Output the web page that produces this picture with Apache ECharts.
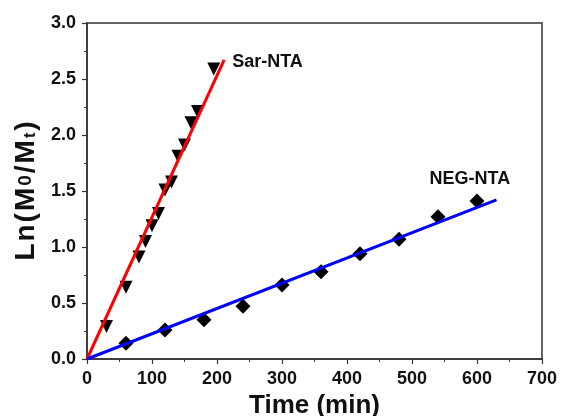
<!DOCTYPE html>
<html>
<head>
<meta charset="utf-8">
<script src="https://cdn.jsdelivr.net/npm/echarts@6/dist/echarts.min.js"></script>
<style>
    html, body { margin: 0; padding: 0; background: #fff; }
    #chart { width: 561px; height: 416px; }
</style>
</head>
<body>
<div id="chart"></div>
<script>
// Sar-NTA data (down triangles)
const sarTime = [30, 60, 80, 90, 100, 110, 120, 130, 140, 150, 160, 170, 195];
const sarLn = [0.29, 0.64, 0.91, 1.05, 1.19, 1.30, 1.51, 1.58, 1.81, 1.91, 2.11, 2.21, 2.59];
// NEG-NTA data (diamonds)
const negTime = [60, 120, 180, 240, 300, 360, 420, 480, 540, 600];
const negLn = [0.14, 0.26, 0.35, 0.47, 0.66, 0.78, 0.94, 1.07, 1.27, 1.41];
// linear fits
const sarFitTime = [0, 211];
const sarFitLn = [0, 2.67];
const negFitTime = [0, 630];
const negFitLn = [0, 1.42];

const xTicks = [0, 100, 200, 300, 400, 500, 600, 700];
const yTicks = [0, 0.5, 1.0, 1.5, 2.0, 2.5, 3.0];

const pairs = (xs, ys) => xs.map((x, i) => [x, ys[i]]);

const font = 'Liberation Sans, Arial, sans-serif';
const axisColor = '#333';
const textColor = '#111';

// rich pieces of the y axis title, one per glyph
const nameStyle = (size, top) => ({
    fontFamily: font, fontWeight: 'bold', fontSize: size, color: textColor,
    padding: [top || 0, 1, 0, 1]
});

const myChart = echarts.init(document.getElementById('chart'));
const option = {
    animation: false,
    grid: {
        left: 87,
        right: 19,
        top: 23,
        bottom: 57,
        outerBoundsMode: 'none',
        show: true,
        borderColor: axisColor,
        borderWidth: 1.5
    },
    xAxis: {
        type: 'value',
        min: xTicks[0],
        max: xTicks[xTicks.length - 1],
        interval: 100,
        name: 'Time (min)',
        nameLocation: 'middle',
        nameGap: 31,
        nameTextStyle: { fontFamily: font, fontWeight: 'bold', fontSize: 26, color: textColor },
        axisLine: { lineStyle: { color: axisColor, width: 1.5 } },
        axisTick: { length: 5, lineStyle: { color: axisColor, width: 1.2 } },
        minorTick: { show: true, splitNumber: 2, length: 3, lineStyle: { color: axisColor } },
        splitLine: { show: false },
        axisLabel: { fontFamily: font, fontWeight: 'bold', fontSize: 18, color: textColor, margin: 11 }
    },
    yAxis: {
        type: 'value',
        min: yTicks[0],
        max: yTicks[yTicks.length - 1],
        interval: 0.5,
        name: '{n|L}{n|n}{n|(}{n|M}{s|0}{n|/}{n|M}{t|t}{n|)}',
        nameLocation: 'middle',
        nameGap: 47,
        nameTextStyle: {
            fontFamily: font, fontWeight: 'bold', fontSize: 28, color: textColor,
            rich: {
                n: nameStyle(28),
                s: nameStyle(19),
                t: nameStyle(16, 10)
            }
        },
        axisLine: { show: true, lineStyle: { color: axisColor, width: 1.5 } },
        axisTick: { show: true, length: 5, lineStyle: { color: axisColor, width: 1.2 } },
        minorTick: { show: true, splitNumber: 2, length: 3, lineStyle: { color: axisColor } },
        splitLine: { show: false },
        axisLabel: {
            fontFamily: font, fontWeight: 'bold', fontSize: 18, color: textColor, margin: 11,
            formatter: v => v.toFixed(1)
        }
    },
    series: [
        {
            name: 'Sar-NTA',
            type: 'scatter',
            symbol: 'triangle',
            symbolRotate: 180,
            symbolSize: 13,
            itemStyle: { color: '#000', opacity: 1 },
            data: pairs(sarTime, sarLn),
            z: 2
        },
        {
            name: 'NEG-NTA',
            type: 'scatter',
            symbol: 'diamond',
            symbolSize: 15,
            itemStyle: { color: '#000', opacity: 1 },
            data: pairs(negTime, negLn),
            z: 2
        },
        {
            name: 'Sar-NTA fit',
            type: 'line',
            showSymbol: false,
            symbol: 'none',
            lineStyle: { color: '#ff0000', width: 3 },
            data: pairs(sarFitTime, sarFitLn),
            endLabel: {
                show: true,
                formatter: 'Sar-NTA',
                fontFamily: font, fontWeight: 'bold', fontSize: 18, color: textColor,
                distance: 8,
                offset: [0, 2]
            },
            z: 3
        },
        {
            name: 'NEG-NTA fit',
            type: 'line',
            showSymbol: false,
            symbol: 'none',
            lineStyle: { color: '#0000ff', width: 3 },
            data: pairs(negFitTime, negFitLn),
            endLabel: {
                show: true,
                formatter: 'NEG-NTA',
                fontFamily: font, fontWeight: 'bold', fontSize: 18, color: textColor,
                offset: [-75, -21]
            },
            z: 3
        }
    ]
};
myChart.setOption(option);
</script>
</body>
</html>
